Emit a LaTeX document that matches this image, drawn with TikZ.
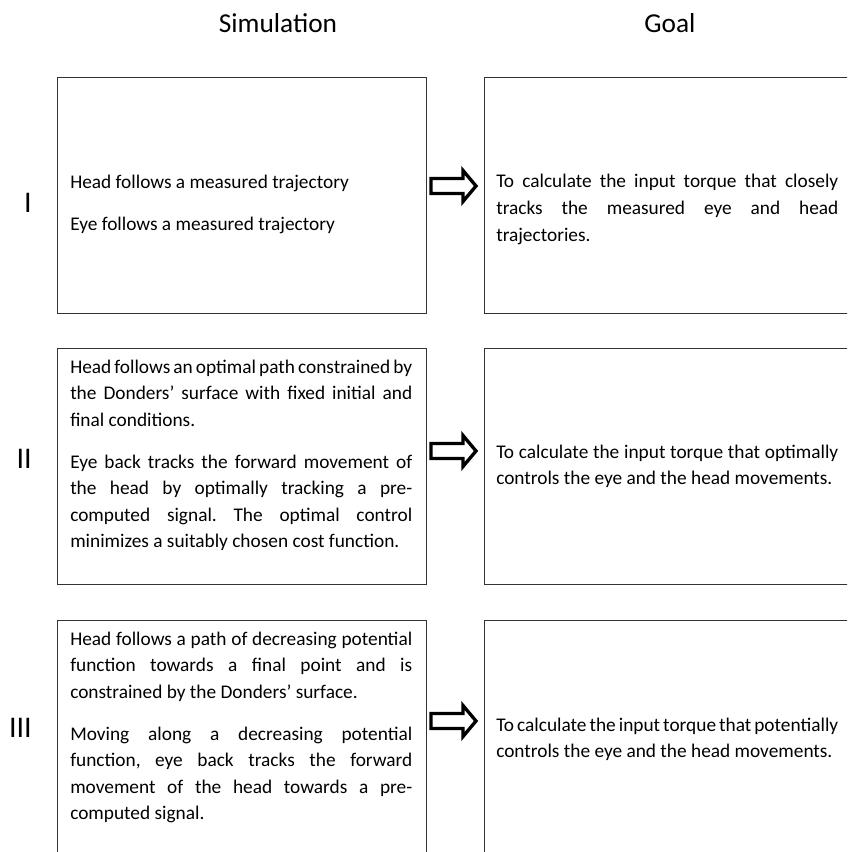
\documentclass[tikz,border=0pt]{standalone}
\usepackage{fontspec}
\setmainfont{Carlito}
\usetikzlibrary{fit}
\tolerance=10000
\hbadness=10000
\frenchspacing
\newcommand\paragap{\par\vspace{11.6pt}}

\begin{document}
\begin{tikzpicture}[x=0.75pt,y=-0.75pt,line join=miter,every node/.style={inner sep=0pt},
  box/.style={draw=black!80,line width=0.75pt,inner sep=0pt},
  body/.style={anchor=base west,text width=256.5pt,align=justify,font=\fontsize{14.5}{19.9}\selectfont},
  coltitle/.style={anchor=base,font=\fontsize{20.5}{24}\selectfont},
  rowlab/.style={anchor=base east,font=\fontsize{22.5}{26}\selectfont},
  fatarrow/.pic={\draw[line width=2.5pt] (0,-7.5) -- (32,-7.5) -- (32,-15.5) -- (45,0) -- (32,15.5) -- (32,7.5) -- (0,7.5) -- cycle;}]
  \useasboundingbox (0,0) rectangle (847,852);
  \clip (0,0) rectangle (847,852);
  \node[coltitle] (simtitle) at (278,33) {Simulation};
  \node[coltitle] (goaltitle) at (670,33) {Goal};
  \foreach \n/\t/\b in {1/78/313,2/348/584,3/620/900} {
    \node[box,fit={(57,\t) (426,\b)}] (sim\n) {};
    \node[box,fit={(484,\t) (900,\b)}] (goal\n) {};
  }
  \foreach \y in {186,451,721} {
    \pic at (431,\y) {fatarrow};
  }
  \node[rowlab] (labI) at (32,213) {I};
  \node[rowlab] (labII) at (32,468) {II};
  \node[rowlab] (labIII) at (32,737) {III};
  \node[body] (simtxt1) at (70,188.3) {Head follows a measured trajectory\paragap
    Eye follows a measured trajectory};
  \node[body] (simtxt2) at (70,373) {Head follows an optimal path constrained by\linebreak
    the Donders’ surface with fixed initial and\linebreak
    final conditions.\paragap
    Eye back tracks the forward movement of\linebreak
    the head by optimally tracking a pre-\linebreak
    computed signal. The optimal control\linebreak
    minimizes a suitably chosen cost function.};
  \node[body] (simtxt3) at (70,645) {Head follows a path of decreasing potential\linebreak
    function towards a final point and is\linebreak
    constrained by the Donders’ surface.\paragap
    Moving along a decreasing potential\linebreak
    function, eye back tracks the forward\linebreak
    movement of the head towards a pre-\linebreak
    computed signal.};
  \node[body] (goaltxt1) at (496,188) {To calculate the input torque that closely\linebreak
    tracks the measured eye and head\linebreak
    trajectories.};
  \node[body] (goaltxt2) at (496,458) {To calculate the input torque that optimally\linebreak
    controls the eye and the head movements.};
  \node[body] (goaltxt3) at (496,731) {To calculate the input torque that potentially\linebreak
    controls the eye and the head movements.};
\end{tikzpicture}
\end{document}
